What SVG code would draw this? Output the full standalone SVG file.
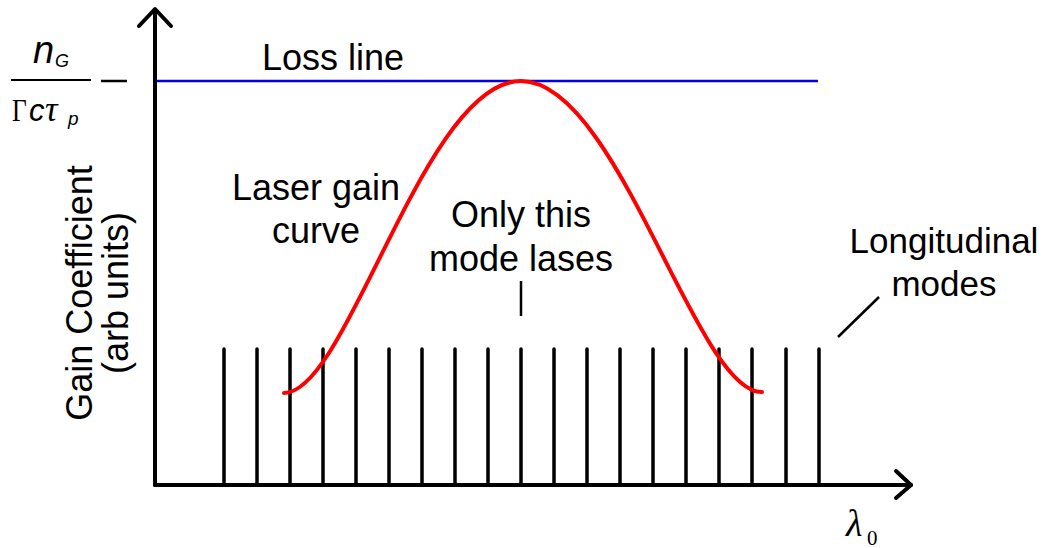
<svg xmlns="http://www.w3.org/2000/svg" width="1046" height="548" viewBox="0 0 1046 548">
<style>
.t{font-family:"Liberation Sans",Arial,sans-serif;font-size:36px;fill:#000}
.it{font-family:"Liberation Sans",Arial,sans-serif;font-style:italic;fill:#000}
.ax{stroke:#000;stroke-width:4;fill:none;stroke-linecap:round;stroke-linejoin:round}
.m{stroke:#000;stroke-width:3.5;stroke-linecap:round}
.ld{stroke:#000;stroke-width:2.5;fill:none}
.ser{font-family:"Liberation Serif","Times New Roman",serif;fill:#000}
</style>
<rect width="1046" height="548" fill="#fff"/>
<g id="connectors">
<g id="modes">
<line class="m" x1="224" y1="349" x2="224" y2="485"/>
<line class="m" x1="257" y1="349" x2="257" y2="485"/>
<line class="m" x1="290" y1="349" x2="290" y2="485"/>
<line class="m" x1="323" y1="349" x2="323" y2="485"/>
<line class="m" x1="356" y1="349" x2="356" y2="485"/>
<line class="m" x1="389" y1="349" x2="389" y2="485"/>
<line class="m" x1="422" y1="349" x2="422" y2="485"/>
<line class="m" x1="455" y1="349" x2="455" y2="485"/>
<line class="m" x1="488" y1="349" x2="488" y2="485"/>
<line class="m" x1="521" y1="349" x2="521" y2="485"/>
<line class="m" x1="554" y1="349" x2="554" y2="485"/>
<line class="m" x1="587" y1="349" x2="587" y2="485"/>
<line class="m" x1="620" y1="349" x2="620" y2="485"/>
<line class="m" x1="653" y1="349" x2="653" y2="485"/>
<line class="m" x1="686" y1="349" x2="686" y2="485"/>
<line class="m" x1="719" y1="349" x2="719" y2="485"/>
<line class="m" x1="752" y1="349" x2="752" y2="485"/>
<line class="m" x1="786" y1="349" x2="786" y2="485"/>
<line class="m" x1="819" y1="349" x2="819" y2="485"/>
</g>
<line id="loss-line" x1="155" y1="81" x2="818" y2="81" stroke="#0000ee" stroke-width="2.5"/>
<path id="gain-curve" d="M284,393 C348,393 424,81 521,81 C618,81 696,393 762,392" fill="none" stroke="#ff0000" stroke-width="4" stroke-linecap="round"/>
<line class="ld" x1="521" y1="281" x2="521" y2="316"/>
<line class="ld" x1="838" y1="337" x2="879" y2="297"/>
<line class="ld" x1="101" y1="81" x2="127" y2="81"/>
</g>
<g id="axes">
<line class="ax" x1="155" y1="10" x2="155" y2="485"/>
<polyline class="ax" points="139,26 155,9 171,26"/>
<line class="ax" x1="155" y1="485" x2="911" y2="485"/>
<polyline class="ax" points="896,471 911,485 896,498"/>
</g>
<g id="y-label">
<text class="t" transform="translate(92,293) rotate(-90)" text-anchor="middle">Gain Coefficient</text>
<text class="t" transform="translate(128,293) rotate(-90)" text-anchor="middle">(arb units)</text>
</g>
<g id="threshold-label">
<text x="33" y="63" class="it" style="font-size:38px">n</text>
<text x="55" y="67" class="it" style="font-size:18px">G</text>
<line x1="11" y1="80" x2="91" y2="80" stroke="#000" stroke-width="2"/>
<text x="12" y="121" class="ser" style="font-size:30px" transform="translate(12,121) scale(0.85,1.05) translate(-12,-121)">Γ</text>
<text x="29" y="121" class="it" style="font-size:31px">c</text>
<text x="45" y="121" class="ser" style="font-style:italic;font-size:35px">τ</text>
<text x="68" y="125" class="it" style="font-size:19px">p</text>
</g>
<g id="loss-label"><text class="t" x="333" y="70" text-anchor="middle">Loss line</text></g>
<g id="gain-label">
<text class="t" x="316" y="200" text-anchor="middle">Laser gain</text>
<text class="t" x="316" y="243" text-anchor="middle">curve</text>
</g>
<g id="mode-label">
<text class="t" x="521" y="227" text-anchor="middle">Only this</text>
<text class="t" x="521" y="271" text-anchor="middle">mode lases</text>
</g>
<g id="long-label">
<text class="t" x="944" y="253" text-anchor="middle" style="font-size:35px">Longitudinal</text>
<text class="t" x="944" y="296" text-anchor="middle" style="font-size:35px">modes</text>
</g>
<g id="x-label">
<text x="846" y="536" class="ser" style="font-style:italic;font-size:38px">λ</text>
<text x="867" y="545" class="ser" style="font-size:21px">0</text>
</g>
</svg>
